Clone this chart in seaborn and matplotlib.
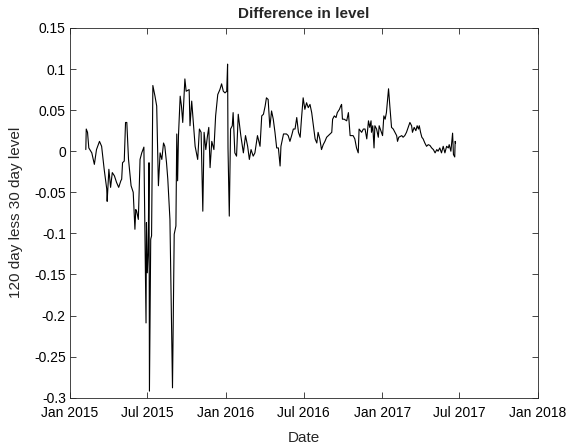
import numpy as np
import pandas as pd
import matplotlib
matplotlib.use("Agg")
import matplotlib.pyplot as plt
import seaborn as sns

# Days since 2015-01-01 and the plotted difference values
days_since_start = [
    37, 38, 41, 44, 51, 57, 62, 69, 74, 80, 86, 87, 91, 95, 99, 104, 109, 114, 119, 121,
    123, 127, 130, 133, 137, 143, 148, 152, 154, 156, 160, 164, 168, 173, 178, 179, 181, 183, 185, 186,
    189, 191, 194, 199, 203, 207, 211, 215, 219, 222, 226, 229, 234, 240, 244, 248, 250, 252, 254, 258,
    261, 264, 269, 272, 279, 281, 285, 289, 293, 299, 303, 307, 311, 314, 318, 322, 325, 328, 332, 337,
    341, 346, 351, 355, 359, 363, 367, 369, 370, 373, 376, 380, 382, 386, 390, 394, 400, 406, 411, 416,
    420, 424, 429, 433, 439, 445, 449, 453, 457, 460, 464, 468, 472, 476, 480, 484, 488, 492, 494, 500,
    507, 511, 515, 519, 523, 527, 531, 535, 539, 542, 546, 550, 554, 558, 562, 566, 570, 574, 578, 581,
    585, 589, 593, 597, 601, 605, 609, 613, 615, 619, 623, 626, 631, 634, 636, 638, 642, 648, 652, 656,
    663, 667, 671, 675, 677, 683, 687, 691, 695, 699, 702, 705, 706, 709, 712, 714, 718, 722, 724, 728,
    732, 735, 738, 741, 743, 746, 749, 753, 757, 761, 765, 767, 770, 777, 780, 784, 788, 792, 796, 800,
    802, 806, 810, 813, 816, 818, 821, 824, 827, 831, 835, 839, 843, 847, 851, 855, 859, 862, 866, 870,
    874, 878, 882, 886, 888, 892, 896, 898, 901, 902, 903,
]
level_diff = [
    0.002, 0.027, 0.023, 0.004, -0.002, -0.016, 0.002, 0.012, 0.006, -0.022, -0.046, -0.061, -0.022, -0.044, -0.026, -0.030, -0.038, -0.044, -0.036, -0.034,
    -0.014, -0.012, 0.035, 0.035, -0.010, -0.042, -0.050, -0.095, -0.071, -0.073, -0.083, -0.010, -0.002, 0.005, -0.209, -0.087, -0.148, -0.124, -0.014, -0.292,
    -0.107, -0.103, 0.080, 0.067, 0.055, -0.042, -0.002, -0.010, 0.010, 0.006, -0.014, -0.034, -0.083, -0.288, -0.101, -0.091, 0.021, -0.036, 0.019, 0.067,
    0.055, 0.035, 0.088, 0.073, 0.075, 0.031, 0.061, 0.033, 0.006, -0.010, 0.027, 0.023, -0.073, 0.023, 0.002, 0.019, 0.029, -0.020, 0.012, 0.002,
    0.043, 0.069, 0.075, 0.082, 0.073, 0.071, 0.073, 0.106, 0.004, -0.079, 0.027, 0.031, 0.047, -0.002, -0.006, 0.045, 0.019, -0.002, 0.019, 0.006,
    -0.010, 0.002, -0.006, -0.002, 0.019, 0.006, 0.043, 0.045, 0.055, 0.065, 0.063, 0.029, 0.049, 0.039, 0.023, 0.004, 0.004, -0.018, 0.006, 0.021,
    0.021, 0.019, 0.012, 0.019, 0.027, 0.027, 0.041, 0.023, 0.017, 0.039, 0.065, 0.051, 0.059, 0.053, 0.057, 0.047, 0.031, 0.015, 0.010, 0.023,
    0.015, 0.002, 0.008, 0.012, 0.017, 0.019, 0.021, 0.023, 0.039, 0.043, 0.041, 0.047, 0.051, 0.055, 0.057, 0.039, 0.039, 0.037, 0.047, 0.019,
    0.019, 0.015, 0.004, -0.002, 0.027, 0.023, 0.027, 0.027, 0.015, 0.037, 0.029, 0.037, 0.023, 0.031, 0.004, 0.031, 0.027, 0.017, 0.031, 0.025,
    0.019, 0.043, 0.039, 0.047, 0.059, 0.076, 0.055, 0.029, 0.027, 0.023, 0.019, 0.012, 0.017, 0.019, 0.017, 0.019, 0.023, 0.029, 0.035, 0.031,
    0.023, 0.029, 0.025, 0.031, 0.027, 0.031, 0.023, 0.017, 0.015, 0.010, 0.006, 0.008, 0.007, 0.004, 0.002, -0.002, 0.002, 0.000, 0.004, -0.002,
    0.006, -0.002, 0.006, 0.004, 0.008, 0.000, 0.022, -0.004, -0.007, 0.012, 0.010,
]

x_tick_labels = ["Jan 2015", "Jul 2015", "Jan 2016", "Jul 2016", "Jan 2017", "Jul 2017", "Jan 2018"]
x_tick_dates = ["2015-01-01", "2015-07-01", "2016-01-01", "2016-07-01", "2017-01-01", "2017-07-01", "2018-01-01"]
y_ticks = [-0.3, -0.25, -0.2, -0.15, -0.1, -0.05, 0, 0.05, 0.1, 0.15]
y_tick_labels = ["-0.3", "-0.25", "-0.2", "-0.15", "-0.1", "-0.05", "0", "0.05", "0.1", "0.15"]

sns.set_style("ticks")
plt.rcParams["font.family"] = ["Liberation Sans", "DejaVu Sans"]
plt.rcParams["axes.unicode_minus"] = False

dates = pd.to_datetime("2015-01-01") + pd.to_timedelta(days_since_start, unit="D")
df = pd.DataFrame({"Date": dates, "diff": level_diff})

fig = plt.figure(figsize=(5.73, 4.47), dpi=100)
ax = fig.add_axes([0.1222, 0.1103, 0.8167, 0.8271])

sns.lineplot(data=df, x="Date", y="diff", ax=ax, estimator=None, sort=False,
             color="black", linewidth=0.8)

ax.set_xlim(pd.Timestamp(x_tick_dates[0]), pd.Timestamp(x_tick_dates[-1]))
ax.set_ylim(-0.3, 0.15)
ax.set_xticks([pd.Timestamp(d) for d in x_tick_dates])
ax.set_xticklabels(x_tick_labels)
ax.set_yticks(y_ticks)
ax.set_yticklabels(y_tick_labels)

ax.set_title("Difference in level", fontsize=11, fontweight="bold", pad=7)
ax.set_xlabel("Date", fontsize=11, labelpad=8)
ax.set_ylabel("120 day less 30 day level", fontsize=11, labelpad=8)

ax.tick_params(direction="in", length=4, width=0.6, labelsize=10, colors="#262626",
               top=True, right=True, pad=3)
ax.tick_params(axis="x", pad=6)
for sp in ax.spines.values():
    sp.set_visible(True)
    sp.set_color("#262626")
    sp.set_linewidth(0.6)
for lbl in ax.get_xticklabels() + ax.get_yticklabels():
    lbl.set_color("black")

fig.savefig("out.png", dpi=100)
